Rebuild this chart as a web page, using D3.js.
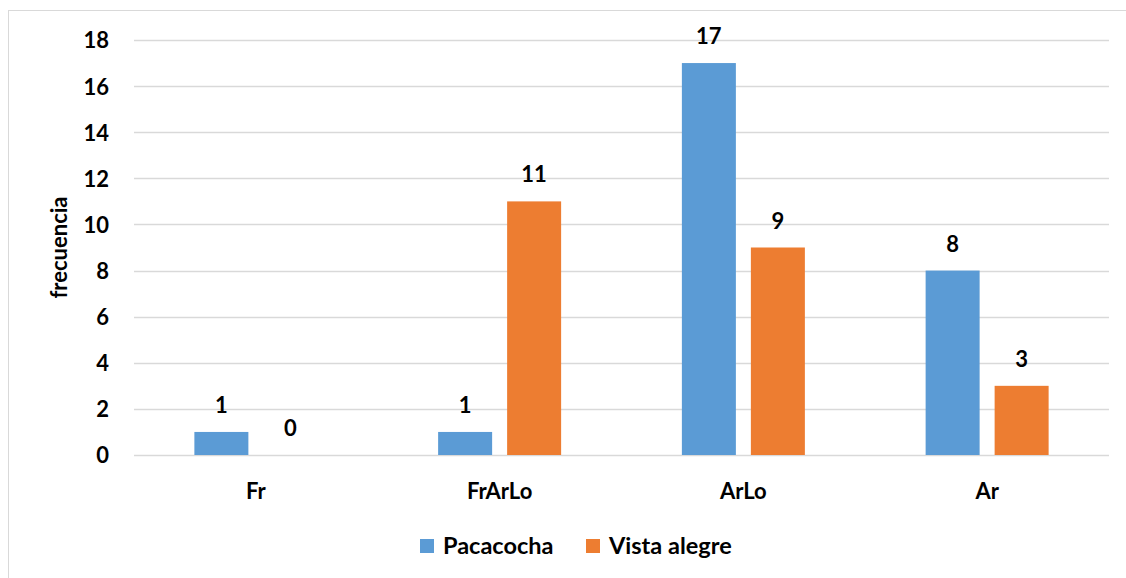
<!DOCTYPE html>
<html><head><meta charset="utf-8">
<script src="https://cdn.jsdelivr.net/npm/d3@7"></script>
<style>body{margin:0;background:#fff}svg{display:block}text{font-family:Lato,"Open Sans",sans-serif;font-weight:bold;fill:#000}</style>
</head><body><svg id="c" width="1126" height="578"></svg>
<script>
const categories = ["Fr","FrArLo","ArLo","Ar"];
const seriesNames = ["Pacacocha","Vista alegre"];
const pacacocha = [1,1,17,8];
const vistaAlegre = [0,11,9,3];
const yTicks = [0,2,4,6,8,10,12,14,16,18];
const colors = ["#5B9BD5","#ED7D31"];

const svg = d3.select("#c");
svg.append("rect").attr("x",8.5).attr("y",10.5).attr("width",1130).attr("height",600)
  .attr("fill","#fff").attr("stroke","#D9D9D9");

const m = {l:134,r:1109,t:40,b:455};
const x = d3.scaleBand().domain(categories).range([m.l,m.r]);
const y = d3.scaleLinear().domain([0,18]).range([m.b,m.t]);
const bw = 54, gap = 15;
const xs = d3.scaleOrdinal().domain(seriesNames).range([-(bw+gap)/2, (bw+gap)/2]);

svg.append("g").selectAll("line").data(yTicks).join("line")
  .attr("x1",m.l).attr("x2",m.r).attr("y1",d=>Math.round(y(d))+0.5).attr("y2",d=>Math.round(y(d))+0.5)
  .attr("stroke","#D9D9D9").attr("stroke-width",1.5);

const yAxis = svg.append("g").attr("transform",`translate(${m.l},0)`)
  .call(d3.axisLeft(y).tickValues(yTicks).tickSize(0).tickPadding(25));
yAxis.select(".domain").remove();
yAxis.selectAll("text").style("font-size","22px").attr("dy","0.36em");

const xAxis = svg.append("g").attr("transform",`translate(0,${m.b})`)
  .call(d3.axisBottom(x).tickSize(0).tickPadding(28));
xAxis.select(".domain").remove();
xAxis.selectAll("text").style("font-size","22px");

const data = [];
categories.forEach((c,i)=>{
  data.push({c, s:seriesNames[0], v:pacacocha[i], col:colors[0]});
  data.push({c, s:seriesNames[1], v:vistaAlegre[i], col:colors[1]});
});
const cx = d=>x(d.c)+x.bandwidth()/2+xs(d.s);
svg.append("g").selectAll("rect").data(data).join("rect")
  .attr("x",d=>cx(d)-bw/2).attr("width",bw)
  .attr("y",d=>y(d.v)).attr("height",d=>y(0)-y(d.v)).attr("fill",d=>d.col);
svg.append("g").selectAll("text").data(data).join("text")
  .attr("x",cx).attr("y",d=>y(d.v)-19).attr("text-anchor","middle")
  .style("font-size","22px").text(d=>d.v);

svg.append("text").attr("transform",`translate(67,${(m.t+m.b)/2}) rotate(-90)`)
  .attr("text-anchor","middle").style("font-size","22px").text("frecuencia");

const lg = svg.append("g");
const lx = [420,586];
seriesNames.forEach((s,i)=>{
  lg.append("rect").attr("x",lx[i]).attr("y",539).attr("width",14).attr("height",14).attr("fill",colors[i]);
  lg.append("text").attr("x",lx[i]+23).attr("y",554).style("font-size","23.5px").text(s);
});
</script></body></html>
